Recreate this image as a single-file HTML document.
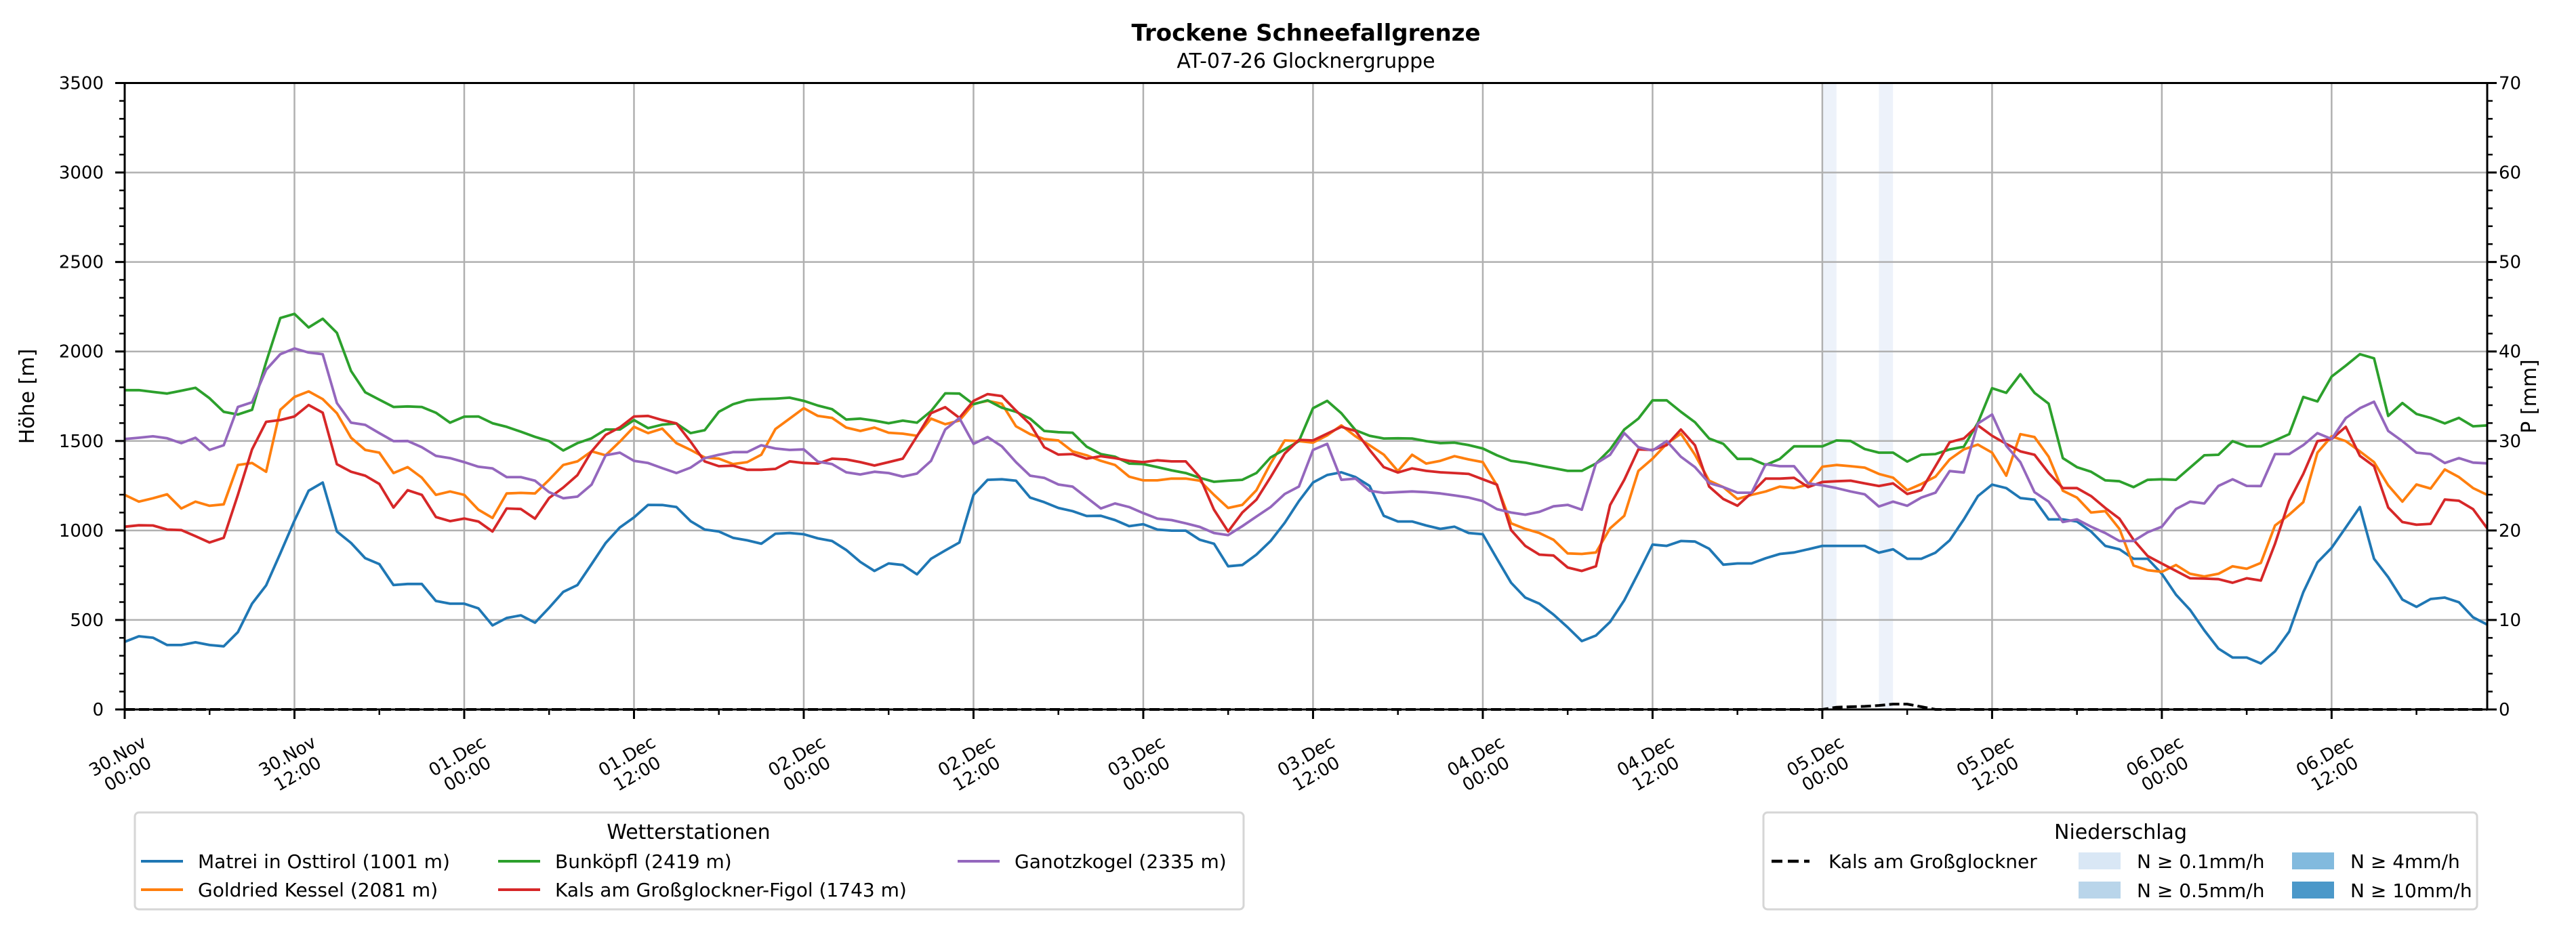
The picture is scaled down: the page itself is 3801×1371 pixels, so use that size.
<!DOCTYPE html>
<html><head><meta charset="utf-8"><style>
html,body{margin:0;padding:0;background:#fff;}
svg{display:block;font-family:"DejaVu Sans","Liberation Sans",sans-serif;}
</style></head><body>
<svg id="chart" xmlns="http://www.w3.org/2000/svg" width="3801" height="1371" viewBox="0 0 3801 1371">
<rect width="3801" height="1371" fill="#fff"/>
<text x="1927" y="60" text-anchor="middle" font-size="34" font-weight="bold">Trockene Schneefallgrenze</text>
<text x="1927" y="100" text-anchor="middle" font-size="30">AT-07-26 Glocknergruppe</text>
<g id="bands"></g><g id="grid"></g><g id="series"></g><g id="axes"></g><g id="legends"></g>
</svg>
<script>
const hours = Array.from({length:168},(_,i)=>i);
const matrei = [378,409,401,360,360,375,360,353,432,591,693,872,1055,1222,1268,994,930,845,812,695,701,701,606,591,591,565,470,511,526,485,568,657,695,812,930,1017,1073,1143,1142,1131,1052,1005,
994,959,945,926,982,986,979,956,941,891,824,774,816,807,755,842,888,933,1199,1283,1286,1278,1184,1158,1126,1108,1081,1082,1058,1024,1035,1005,999,999,948,926,800,807,865,941,1043,1164,
1268,1310,1325,1298,1249,1082,1050,1050,1028,1009,1021,986,979,842,708,625,591,530,459,382,413,489,610,763,921,914,941,938,898,809,816,816,845,869,877,895,914,914,914,914,876,895,
842,842,876,945,1062,1192,1256,1237,1181,1172,1062,1062,1050,994,914,895,842,842,758,641,556,442,340,290,290,257,325,435,655,822,903,1017,1131,842,739,614,573,617,625,599,515,474];
const goldried = [1199,1161,1180,1202,1123,1161,1138,1146,1366,1377,1328,1674,1746,1777,1734,1655,1518,1450,1435,1321,1354,1295,1199,1218,1199,1116,1070,1207,1210,1207,1283,1366,1386,1442,1420,1496,1579,1544,1569,1488,1450,1408,
1401,1371,1382,1423,1567,1625,1683,1640,1629,1575,1556,1575,1546,1541,1529,1625,1594,1614,1708,1724,1708,1582,1538,1511,1503,1442,1420,1389,1366,1301,1280,1280,1290,1290,1278,1199,1126,1143,1225,1374,1503,1499,
1491,1531,1587,1526,1476,1424,1332,1423,1374,1389,1415,1397,1382,1252,1040,1009,986,948,872,869,877,1012,1082,1333,1401,1484,1541,1423,1278,1242,1176,1199,1218,1245,1237,1256,1356,1366,1359,1351,1316,1295,
1225,1260,1301,1397,1453,1480,1435,1306,1538,1522,1412,1222,1184,1100,1108,1009,804,778,769,807,758,743,758,800,786,819,1028,1088,1158,1435,1526,1499,1442,1382,1252,1161,1257,1234,1341,1298,1237,1199];
const bunkoepfl = [1784,1784,1774,1765,1781,1797,1739,1663,1648,1674,1941,2187,2210,2134,2183,2104,1891,1772,1731,1690,1693,1690,1658,1602,1636,1637,1599,1579,1552,1523,1499,1447,1488,1515,1564,1564,1617,1572,1591,1598,1544,1560,
1663,1705,1728,1734,1736,1742,1724,1698,1678,1620,1625,1614,1599,1614,1602,1667,1766,1765,1705,1727,1686,1663,1625,1556,1549,1546,1468,1427,1412,1374,1371,1354,1336,1321,1294,1272,1278,1283,1321,1408,1453,1499,
1683,1724,1655,1560,1529,1514,1515,1514,1499,1488,1491,1477,1458,1420,1389,1379,1363,1348,1333,1333,1374,1453,1564,1625,1727,1727,1663,1605,1514,1484,1400,1400,1366,1400,1470,1470,1470,1503,1500,1455,1435,1435,
1385,1423,1427,1453,1468,1602,1795,1769,1873,1769,1708,1404,1354,1328,1280,1275,1242,1283,1286,1283,1351,1420,1423,1499,1470,1470,1503,1538,1746,1721,1860,1921,1985,1962,1640,1712,1651,1629,1598,1629,1582,1587];
const kals = [1021,1029,1028,1005,1002,968,933,959,1199,1453,1607,1617,1637,1701,1658,1370,1328,1306,1260,1128,1225,1199,1075,1052,1067,1050,994,1123,1120,1066,1181,1240,1309,1442,1534,1576,1637,1640,1617,1598,1496,1386,
1359,1362,1339,1339,1344,1386,1377,1374,1401,1397,1382,1363,1382,1401,1526,1655,1689,1629,1724,1762,1751,1670,1594,1465,1424,1427,1401,1415,1404,1389,1382,1392,1386,1386,1298,1116,994,1100,1172,1298,1430,1506,
1503,1541,1579,1556,1450,1354,1324,1347,1333,1325,1321,1316,1286,1256,1002,914,865,860,793,774,800,1142,1283,1453,1450,1477,1564,1476,1245,1176,1138,1210,1290,1290,1294,1242,1271,1275,1278,1263,1248,1263,
1204,1225,1359,1493,1514,1587,1529,1484,1442,1423,1321,1237,1237,1192,1126,1066,948,857,815,774,733,731,728,708,733,720,926,1164,1316,1499,1511,1579,1417,1359,1128,1047,1032,1037,1173,1166,1119,1012];
const ganotz = [1511,1518,1526,1515,1488,1518,1450,1476,1690,1716,1898,1985,2017,1994,1985,1712,1602,1590,1544,1499,1500,1465,1417,1404,1382,1356,1347,1298,1298,1278,1214,1180,1189,1256,1420,1435,1389,1377,1348,1321,1351,1404,
1423,1438,1438,1476,1458,1450,1453,1385,1371,1325,1313,1328,1321,1301,1318,1389,1564,1628,1484,1522,1470,1382,1306,1294,1257,1245,1184,1123,1151,1131,1097,1066,1058,1040,1020,986,974,1024,1078,1131,1204,1245,
1450,1484,1283,1290,1222,1210,1214,1218,1214,1207,1196,1184,1164,1119,1100,1088,1104,1135,1143,1116,1374,1423,1544,1465,1447,1499,1412,1354,1265,1242,1211,1211,1370,1359,1359,1263,1252,1237,1218,1202,1134,1161,
1138,1184,1211,1332,1324,1598,1648,1473,1382,1214,1161,1047,1062,1021,986,941,941,990,1021,1120,1161,1151,1249,1286,1249,1248,1427,1427,1477,1544,1511,1628,1683,1719,1556,1499,1435,1427,1377,1404,1379,1375];
const precipHours = [118,119,120,121,122,123,124,125,126,127,128,129];
const precipValues = [0,0,0,0.25,0.3,0.35,0.45,0.6,0.6,0.3,0,0];
const bandStartHours = [120,124];
const yTicks = [0,500,1000,1500,2000,2500,3000,3500];
const yRTicks = [0,10,20,30,40,50,60,70];
const xTickLabels = [["30.Nov","00:00"],["30.Nov","12:00"],["01.Dec","00:00"],["01.Dec","12:00"],["02.Dec","00:00"],["02.Dec","12:00"],["03.Dec","00:00"],["03.Dec","12:00"],["04.Dec","00:00"],["04.Dec","12:00"],["05.Dec","00:00"],["05.Dec","12:00"],["06.Dec","00:00"],["06.Dec","12:00"]];

const L=184,R=3670,T=122.5,B=1047;
const x=h=>L+h*(R-L)/167;
const y=v=>B-v*(B-T)/3500;
const yR=p=>B-p*(B-T)/70;
const NS="http://www.w3.org/2000/svg";
function mk(tag,attrs,parent,text){const e=document.createElementNS(NS,tag);for(const k in attrs)e.setAttribute(k,attrs[k]);if(text!==undefined)e.textContent=text;parent.appendChild(e);return e;}
const gB=document.getElementById('bands'),gG=document.getElementById('grid'),gS=document.getElementById('series'),gA=document.getElementById('axes'),gL=document.getElementById('legends');

bandStartHours.forEach(h=>{
  const r=mk('rect',{x:x(h),y:T,width:x(h+1)-x(h),height:B-T,fill:'#edf2fa'},gB);
  
  
});
for(let h=0;h<=156;h+=12){const l=mk('line',{x1:x(h),x2:x(h),y1:T,y2:B,stroke:'#b0b0b0','stroke-width':2.5},gG);
  
  }
yTicks.forEach(v=>{const l=mk('line',{x1:L,x2:R,y1:y(v),y2:y(v),stroke:'#b0b0b0','stroke-width':2.5},gG);
  
  });

const series=[[matrei,'#1f77b4','line-matrei'],[goldried,'#ff7f0e','line-goldried-kessel'],[bunkoepfl,'#2ca02c','line-bunkoepfl'],[kals,'#d62728','line-kals-figol'],[ganotz,'#9467bd','line-ganotzkogel']];
series.forEach(([d,c,n])=>{
  const p=mk('polyline',{points:d.map((v,i)=>x(hours[i]).toFixed(1)+','+y(v).toFixed(1)).join(' '),fill:'none',stroke:c,'stroke-width':3.8,'stroke-linejoin':'round'},gS);
  
  
});
const pp=[[0,0]];precipHours.forEach((h,i)=>pp.push([h,precipValues[i]]));pp.push([167,0]);
const pl=mk('polyline',{points:pp.map(([h,p])=>x(h).toFixed(1)+','+yR(p).toFixed(1)).join(' '),fill:'none',stroke:'#000','stroke-width':4,'stroke-dasharray':'15,6'},gS);



const sp=mk('rect',{x:L,y:T,width:R-L,height:B-T,fill:'none',stroke:'#000','stroke-width':3},gA);


for(let v=0;v<=3500;v+=100){const maj=v%500===0;mk('line',{x1:L-(maj?14:8),x2:L,y1:y(v),y2:y(v),stroke:'#000','stroke-width':maj?3:2.5},gA);}
yTicks.forEach(v=>{const t=mk('text',{x:153,y:y(v)+9,'text-anchor':'end','font-size':26},gA,String(v));
  
  });
for(let p=0;p<=70;p+=2){const maj=p%10===0;mk('line',{x1:R,x2:R+(maj?14:8),y1:yR(p),y2:yR(p),stroke:'#000','stroke-width':maj?3:2.5},gA);}
yRTicks.forEach(p=>{const t=mk('text',{x:3687,y:yR(p)+9,'text-anchor':'start','font-size':26},gA,String(p));
  
  });
for(let h=0;h<=167;h+=6){const maj=h%12===0;mk('line',{x1:x(h),x2:x(h),y1:B,y2:B+(maj?14:8),stroke:'#000','stroke-width':maj?3:2.5},gA);}
xTickLabels.forEach((lab,i)=>{
  const cx=x(i*12)-4,cy=1127;
  const t=mk('text',{transform:`translate(${cx},${cy}) rotate(-30)`,'text-anchor':'middle','font-size':26},gA);
  
  
  mk('tspan',{x:0,y:-4},t,lab[0]);mk('tspan',{x:0,y:26},t,lab[1]);
});
const yl=mk('text',{transform:'translate(50,585) rotate(-90)','text-anchor':'middle','font-size':30},gA,'Höhe [m]');


const yr=mk('text',{transform:'translate(3742,585) rotate(-90)','text-anchor':'middle','font-size':30},gA,'P [mm]');



const lg1=mk('g',{},gL);


mk('rect',{x:199,y:1199,width:1636,height:143,rx:6,fill:'#fff',stroke:'#d6d6d6','stroke-width':3},lg1);
mk('text',{x:1016,y:1238,'text-anchor':'middle','font-size':30},lg1,'Wetterstationen');
const ents=[['Matrei in Osttirol (1001 m)','#1f77b4',208,1271],['Goldried Kessel (2081 m)','#ff7f0e',208,1313],['Bunköpfl (2419 m)','#2ca02c',735,1271],['Kals am Großglockner-Figol (1743 m)','#d62728',735,1313],['Ganotzkogel (2335 m)','#9467bd',1413,1271]];
ents.forEach(([t,c,ex,ey])=>{
  const g=mk('g',{},lg1);
  
  
  mk('line',{x1:ex,x2:ex+62,y1:ey,y2:ey,stroke:c,'stroke-width':4},g);
  mk('text',{x:ex+84,y:ey+10,'font-size':28},g,t);
});
const lg2=mk('g',{},gL);


mk('rect',{x:2602,y:1199,width:1053,height:143,rx:6,fill:'#fff',stroke:'#d6d6d6','stroke-width':3},lg2);
mk('text',{x:3129,y:1238,'text-anchor':'middle','font-size':30},lg2,'Niederschlag');
const ge=mk('g',{},lg2);


mk('line',{x1:2614,x2:2670,y1:1271,y2:1271,stroke:'#000','stroke-width':4.5,'stroke-dasharray':'16,8'},ge);
mk('text',{x:2698,y:1281,'font-size':28},ge,'Kals am Großglockner');
const pats=[['N ≥ 0.1mm/h','#d9e7f5',3067,1258],['N ≥ 0.5mm/h','#b9d5ea',3067,1301],['N ≥ 4mm/h','#82bade',3382,1258],['N ≥ 10mm/h','#4b98c9',3382,1301]];
pats.forEach(([t,c,px,py])=>{
  const g=mk('g',{},lg2);
  
  
  mk('rect',{x:px,y:py,width:62,height:25,fill:c},g);
  mk('text',{x:px+86,y:py+23,'font-size':28},g,t);
});
</script>
</body></html>
